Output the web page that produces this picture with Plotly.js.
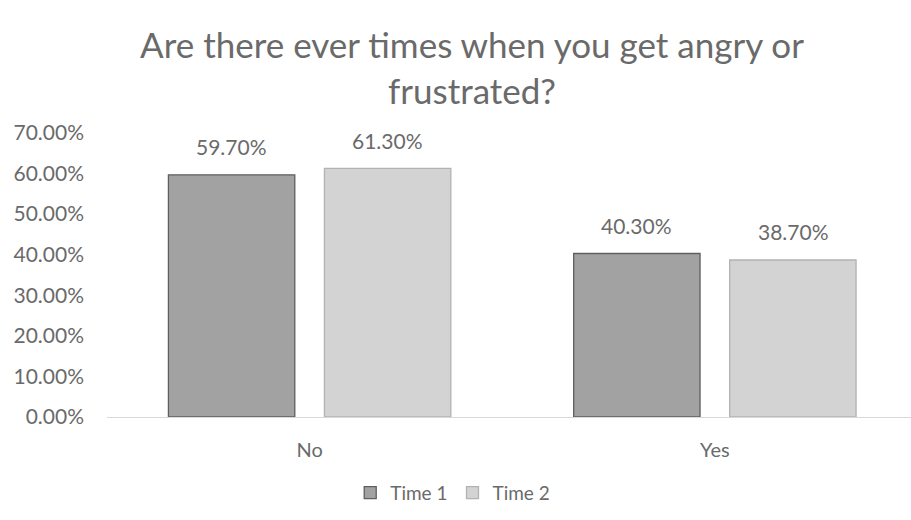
<!DOCTYPE html>
<html>
<head>
<meta charset="utf-8">
<script src="https://cdn.plot.ly/plotly-3.0.1.min.js"></script>
<style>html,body{margin:0;padding:0;background:#fff;}#chart{width:911px;height:520px;}</style>
</head>
<body>
<div id="chart"></div>
<script>
const categories = ["No", "Yes"];
const seriesNames = ["Time 1", "Time 2"];
const time1 = [0.597, 0.403];
const time2 = [0.613, 0.387];
const yTickVals = [0, 0.1, 0.2, 0.3, 0.4, 0.5, 0.6, 0.7];
const yTickText = ["0.00%", "10.00%", "20.00%", "30.00%", "40.00%", "50.00%", "60.00%", "70.00%"];

const fontFam = "Lato, 'Open Sans', sans-serif";
const grey = "#6a6a6a";

const traces = [
  {type: "bar", name: seriesNames[0], x: categories, y: time1,
   marker: {color: "#a2a2a2", line: {color: "#5f5f5f", width: 1.3}}, hoverinfo: "none"},
  {type: "bar", name: seriesNames[1], x: categories, y: time2,
   marker: {color: "#d3d3d3", line: {color: "#b2b2b2", width: 1.3}}, hoverinfo: "none"}
];

const annotations = [];
[time1, time2].forEach((vals, si) => {
  vals.forEach((v, ci) => {
    annotations.push({
      x: ci + (si === 0 ? -0.193 : 0.193), y: v, xref: "x", yref: "y",
      text: (v * 100).toFixed(2) + "%", showarrow: false, yshift: 28,
      font: {family: fontFam, size: 21, color: grey}
    });
  });
});

const layout = {
  width: 911, height: 520,
  margin: {l: 107, r: 0, t: 133, b: 103},
  paper_bgcolor: "#fff", plot_bgcolor: "#fff",
  title: {text: "Are there ever times when you get angry or<br>frustrated?",
          xref: "container", x: 472 / 911, xanchor: "center",
          yref: "container", y: 1 - 58 / 520, yanchor: "middle",
          font: {family: fontFam, size: 35, color: grey}},
  barmode: "group", bargap: 0.23, bargroupgap: 0.19,
  xaxis: {range: [-0.5, 1.484], showline: true, linecolor: "#d9d9d9", linewidth: 1.3,
          ticks: "", showgrid: false, zeroline: false, fixedrange: true, ticklabelstandoff: 15,
          tickfont: {family: fontFam, size: 20, color: grey}},
  yaxis: {range: [0, 0.7], tickvals: yTickVals, ticktext: yTickText, showgrid: false,
          zeroline: false, showline: false, ticks: "", ticklabelstandoff: 22,
          tickfont: {family: fontFam, size: 21, color: grey}},
  legend: {orientation: "h", x: 0.43, xanchor: "center", y: -0.2, yanchor: "top",
           font: {family: fontFam, size: 19, color: grey}, itemwidth: 30, traceorder: "normal"},
  annotations: annotations,
  showlegend: true
};

Plotly.newPlot("chart", traces, layout, {displayModeBar: false, staticPlot: true});
</script>
</body>
</html>
